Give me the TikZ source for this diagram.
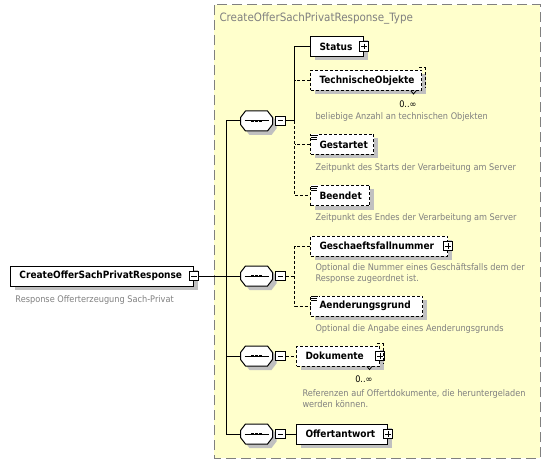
\documentclass[tikz,border=0pt]{standalone}
\usepackage{fontspec}
\setmainfont{DejaVu Sans Condensed}
\usetikzlibrary{positioning, shadows, calc}
\definecolor{typefill}{HTML}{FFFFCC}
\definecolor{framegray}{RGB}{128,128,128}
\definecolor{descgray}{RGB}{128,128,128}
\definecolor{shadowgray}{RGB}{192,192,192}

\begin{document}
\begin{tikzpicture}[
    x=1pt, y=-1pt, line width=1pt,
    elem/.style={rectangle, draw, fill=white, minimum height=20pt, inner xsep=9pt, inner ysep=0pt, anchor=west, align=left, font=\bfseries\fontsize{10}{12}\selectfont, drop shadow={shadow xshift=4pt, shadow yshift=-4pt, fill=shadowgray, opacity=1}},
    optelem/.style={elem, dash pattern=on 3pt off 2pt},
    optline/.style={dash pattern=on 3pt off 2pt},
    seqshape/.style={draw, fill=white, drop shadow={shadow xshift=4pt, shadow yshift=-4pt, fill=shadowgray, opacity=1}},
    seqbox/.style={rectangle, minimum width=31pt, minimum height=19pt, inner sep=0pt},
    togglebox/.style={rectangle, draw, fill=white, minimum size=9.5pt, inner sep=0pt},
    minusbox/.style={togglebox, path picture={\draw ($(path picture bounding box.west)+(2,0)$) -- ($(path picture bounding box.east)+(-2,0)$);}},
    plusbox/.style={togglebox, path picture={\draw ($(path picture bounding box.west)+(2,0)$) -- ($(path picture bounding box.east)+(-2,0)$); \draw ($(path picture bounding box.north)+(0,2)$) -- ($(path picture bounding box.south)+(0,-2)$);}},
    desc/.style={anchor=west, inner sep=0pt, align=left, text=descgray, font=\fontsize{9.1}{11}\selectfont},
    occurs/.style={anchor=east, inner sep=0pt, font=\fontsize{9.1}{11}\selectfont}
]
    \useasboundingbox (0,0) rectangle (551,465);

    % Complex type frame
    \draw[framegray, fill=typefill, dash pattern=on 10pt off 5pt] (214,5) rectangle (540,458);
    \node[anchor=west, inner sep=0pt, text=framegray, font=\fontsize{11.5}{13}\selectfont] (typename) at (219,18) {CreateOfferSachPrivatResponse\_Type};

    % Root element
    \node[elem, text width=165pt] (root) at (10,276) {CreateOfferSachPrivatResponse};
    \node[minusbox] (rootm) at (root.east) {};
    \node[desc] (rootd) at (15,300) {Response Offerterzeugung Sach-Privat};

    % Sequence compositors with their toggles
    \foreach \n/\y in {1/121, 2/276, 3/356, 4/434} {
        \node[seqbox] (seq\n) at (256.5,\y) {};
        \draw[seqshape] ($(seq\n.north west)+(5,0)$) -- ($(seq\n.north east)+(-5,0)$) -- ($(seq\n.east)+(0,-3.5)$) -- ($(seq\n.east)+(0,3.5)$)
            -- ($(seq\n.south east)+(-5,0)$) -- ($(seq\n.south west)+(5,0)$) -- ($(seq\n.west)+(0,3.5)$) -- ($(seq\n.west)+(0,-3.5)$) -- cycle;
        \draw ($(seq\n.west)+(4,0)$) -- ($(seq\n.east)+(-4,0)$);
        \foreach \d in {-4,0,4} \fill ($(seq\n.center)+(\d-1.25,-1.25)$) rectangle +(2.5,2.5);
        \node[minusbox] (seq\n m) at (280.5,\y) {};
    }

    % Trunk from root to the sequences
    \coordinate (trunk) at (226,0);
    \draw (rootm.east) -- (seq2.west);
    \draw (seq1.west -| trunk) -- (seq4.west -| trunk);
    \foreach \n in {1,3,4} \draw (seq\n.west) -- (seq\n.west -| trunk);

    % First sequence
    \node[elem, text width=35pt] (status) at (310,46.5) {Status};
    \node[plusbox] (statusp) at (status.east) {};

    \node[optelem, text width=93pt] (tech) at (310,80.5) {TechnischeObjekte};
    \draw[optline] ($(tech.north east)+(-3,-2)$) -| ($(tech.south east)+(3,-3)$);
    \draw[line width=0.8pt] ($(tech.south east)+(-11,0)$) -- ++(2.5,3) -- ++(2.5,-3);
    \node[occurs] (techo) at ($(tech.south east)+(-5,13)$) {0..∞};
    \node[desc] (techd) at (315,117) {beliebige Anzahl an technischen Objekten};

    \node[optelem, text width=45pt] (gestartet) at (310,144.5) {Gestartet};
    \node[desc] (gestartetd) at (315,168) {Zeitpunkt des Starts der Verarbeitung am Server};

    \node[optelem, text width=41pt] (beendet) at (310,195.5) {Beendet};
    \node[desc] (beendetd) at (315,218) {Zeitpunkt des Endes der Verarbeitung am Server};

    \coordinate (g1) at ($(seq1m.east)+(9,0)$);
    \draw (seq1m.east) -- (g1);
    \draw (status.west) -| (g1);
    \draw[optline] (g1) |- (beendet.west);
    \draw[optline] (tech.west) -- (tech.west -| g1);
    \draw[optline] (gestartet.west) -- (gestartet.west -| g1);

    % Second sequence
    \node[optelem, text width=119pt] (gesch) at (310,246) {Geschaeftsfallnummer};
    \node[plusbox] (geschp) at (gesch.east) {};
    \node[desc] (geschd) at (315,273.5) {Optional die Nummer eines Geschäftsfalls dem der\\Response zugeordnet ist.};

    \node[optelem, text width=94pt] (aender) at (310,306) {Aenderungsgrund};
    \node[desc] (aenderd) at (315,329) {Optional die Angabe eines Aenderungsgrunds};

    \coordinate (g2) at ($(seq2m.east)+(9,0)$);
    \draw[optline] (seq2m.east) -- (g2);
    \draw[optline] (gesch.west) -| (g2) |- (aender.west);

    % Third sequence
    \node[optelem, text width=65pt] (doku) at (296,356) {Dokumente};
    \node[plusbox] (dokup) at (doku.east) {};
    \draw[optline] ($(doku.north east)+(-3,-2)$) -| ($(doku.south east)+(3,-3)$);
    \draw[line width=0.8pt] ($(doku.south east)+(-13,0)$) -- ++(2.5,3) -- ++(2.5,-3);
    \node[occurs] (dokuo) at ($(doku.south east)+(-7,13)$) {0..∞};
    \node[desc] (dokud) at (302,398.5) {Referenzen auf Offertdokumente, die heruntergeladen\\werden können.};
    \draw[optline] (seq3m.east) -- (doku.west);

    % Fourth sequence
    \node[elem, text width=73pt] (offer) at (296,434) {Offertantwort};
    \node[plusbox] (offerp) at (offer.east) {};
    \draw (seq4m.east) -- (offer.west);

    % Simple type marks
    \foreach \e in {gestartet, beendet, aender} {
        \fill[white] ($(\e.north west)+(0.5,0.5)$) rectangle +(8,6);
        \foreach \k/\l in {1/7, 3/6, 5/6} \draw[line width=0.8pt] ($(\e.north west)+(1,\k)$) -- +(\l,0);
    }
\end{tikzpicture}
\end{document}
